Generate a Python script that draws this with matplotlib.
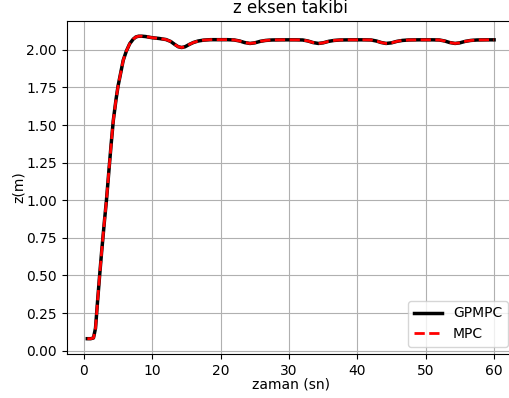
import matplotlib.pyplot as plt

plt.rcParams['savefig.bbox'] = 'standard'

# time (s) and z position (m)
t = [0.5, 1.0, 1.4, 1.7, 2.0, 2.3, 2.6, 3.0, 3.3, 3.7, 4.0, 4.3, 4.7, 5.0, 5.4, 5.75,
     6.2, 6.7, 7.2, 7.6, 8.0, 8.5, 9.0, 10.0, 11.0, 12.0, 12.7, 13.3, 13.8, 14.3,
     14.8, 15.4, 16.0, 16.7, 17.5, 18.5, 20.0, 21.0, 22.0, 22.8, 23.5, 24.3, 25.0,
     25.8, 26.6, 27.5, 29.0, 31.0, 32.0, 32.8, 33.5, 34.3, 35.0, 35.8, 36.6, 37.5,
     39.0, 41.0, 42.0, 42.8, 43.5, 44.2, 45.0, 45.8, 46.6, 47.5, 49.0, 51.0, 52.0,
     52.8, 53.5, 54.3, 55.0, 55.8, 56.6, 57.5, 59.0, 60.0]
z_gpmpc = [0.08, 0.08, 0.085, 0.15, 0.33, 0.50, 0.66, 0.86, 1.00, 1.22, 1.38, 1.53,
           1.67, 1.76, 1.85, 1.93, 1.99, 2.04, 2.07, 2.085, 2.09, 2.09, 2.088, 2.08,
           2.075, 2.068, 2.055, 2.035, 2.02, 2.015, 2.02, 2.035, 2.048, 2.058, 2.064,
           2.067, 2.067, 2.067, 2.065, 2.058, 2.048, 2.042, 2.046, 2.056, 2.062, 2.065,
           2.066, 2.066, 2.065, 2.058, 2.048, 2.042, 2.046, 2.056, 2.062, 2.065, 2.066,
           2.066, 2.065, 2.058, 2.048, 2.042, 2.046, 2.056, 2.062, 2.065, 2.066, 2.066,
           2.065, 2.058, 2.048, 2.042, 2.046, 2.056, 2.062, 2.065, 2.066, 2.066]
z_mpc = list(z_gpmpc)

fig = plt.figure(figsize=(5.1, 3.98), dpi=100)
# axes runs past the right edge of the image, like the cropped original
ax = fig.add_axes([0.131, 0.111, 0.878, 0.836])
ax.plot(t, z_gpmpc, color='black', linewidth=2.5, label='GPMPC')
ax.plot(t, z_mpc, color='red', linestyle='--', linewidth=2, label='MPC')
ax.set_xlim(-2.5, 63)
ax.set_title('z eksen takibi')
ax.set_xlabel('zaman (sn)', labelpad=0)
ax.set_ylabel('z(m)', labelpad=0)
ax.set_xticks([0, 10, 20, 30, 40, 50, 60])
ax.set_yticks([0.0, 0.25, 0.5, 0.75, 1.0, 1.25, 1.5, 1.75, 2.0])
ax.grid(True)
ax.legend(loc='lower right')
fig.savefig('out.png', dpi=100, bbox_inches=None)
